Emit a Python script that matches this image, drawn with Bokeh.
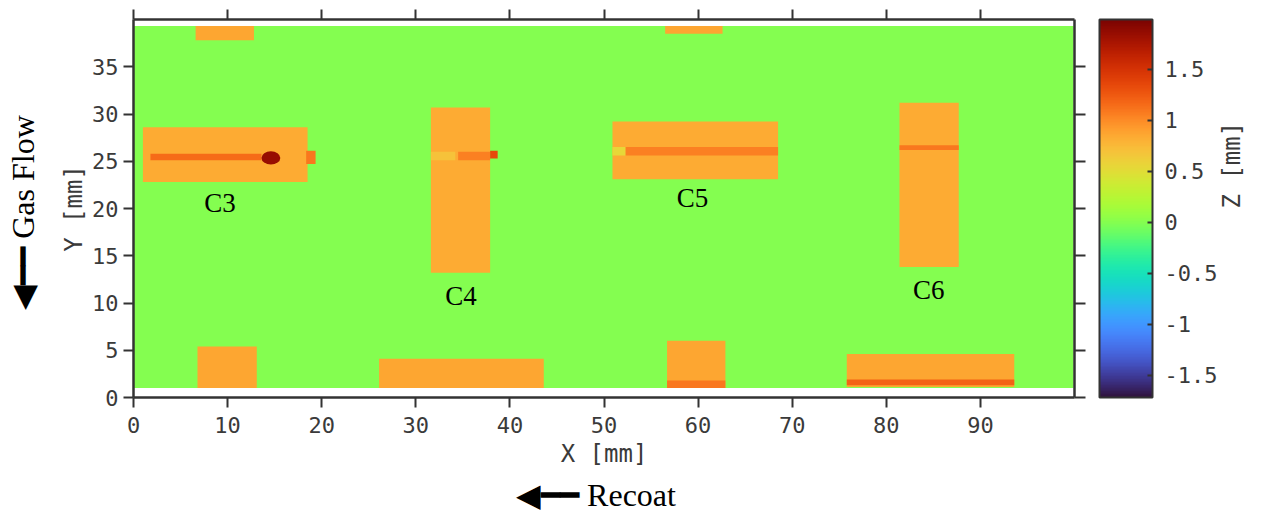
from math import pi
from bokeh.plotting import figure
from bokeh.models import (LinearColorMapper, ColorBar, FixedTicker, LinearAxis,
                          ColumnDataSource, Range1d, CustomJSTickFormatter)
from bokeh.palettes import Turbo256
from bokeh.core.properties import value
from bokeh.embed import file_html
from bokeh.resources import INLINE

# ---------------- data (mm) ----------------
x_ticks = [0, 10, 20, 30, 40, 50, 60, 70, 80, 90]
y_ticks = [0, 5, 10, 15, 20, 25, 30, 35]
z_ticks = [-1.5, -1.0, -0.5, 0.0, 0.5, 1.0, 1.5]
z_low, z_high = -1.72, 1.99

# scanned build plate (background height)
bed_left, bed_right, bed_bottom, bed_top, bed_z = [0.0], [99.9], [1.0], [39.3], [0.0]

# printed parts
part_left   = [6.6, 56.5, 1.0, 31.6, 50.9, 81.4, 6.8, 26.1, 56.7, 75.8]
part_right  = [12.8, 62.6, 18.5, 37.9, 68.5, 87.7, 13.1, 43.6, 62.9, 93.6]
part_bottom = [37.8, 38.5, 22.8, 13.2, 23.1, 13.8, 1.0, 1.0, 1.0, 1.1]
part_top    = [39.3, 39.3, 28.6, 30.7, 29.2, 31.2, 5.4, 4.1, 6.0, 4.6]
part_z      = [0.86, 0.86, 0.84, 0.84, 0.84, 0.84, 0.86, 0.86, 0.86, 0.86]

# raised tracks / features on the parts
track_left   = [1.8, 18.35, 31.6, 34.5, 37.9, 50.9, 52.3, 81.4, 75.8, 56.7]
track_right  = [13.6, 19.35, 34.2, 37.9, 38.7, 52.3, 68.5, 87.7, 93.6, 62.9]
track_bottom = [25.1, 24.7, 25.1, 25.1, 25.3, 25.6, 25.6, 26.2, 1.3, 1.0]
track_top    = [25.8, 26.1, 26.0, 26.0, 26.1, 26.5, 26.5, 26.7, 1.9, 1.8]
track_z      = [1.15, 1.1, 0.7, 1.05, 1.35, 0.55, 1.05, 1.1, 1.2, 1.1]

# defect (spatter blob) on C3
blob_x, blob_y, blob_w, blob_h, blob_z = [14.6], [25.35], [2.0], [1.4], [1.85]

# coupon labels
label_text = ["C3", "C4", "C5", "C6"]
label_x = [9.2, 34.8, 59.4, 84.5]
label_y = [20.6, 10.7, 21.1, 11.4]

# ---------------- figure ----------------
mapper = LinearColorMapper(palette=Turbo256, low=z_low, high=z_high)
fill = {"field": "z", "transform": mapper}

p = figure(width=1262, height=516, x_range=Range1d(0, 100), y_range=Range1d(0, 40),
           output_backend="svg", toolbar_location=None,
           min_border_left=133, min_border_right=188, min_border_top=19, min_border_bottom=119)
p.xgrid.visible = False
p.ygrid.visible = False
p.outline_line_color = None
p.background_fill_color = "white"

src_bed = ColumnDataSource(dict(l=bed_left, r=bed_right, b=bed_bottom, t=bed_top, z=bed_z))
p.quad(left="l", right="r", bottom="b", top="t", source=src_bed, fill_color=fill, line_color=None)
src_parts = ColumnDataSource(dict(l=part_left, r=part_right, b=part_bottom, t=part_top, z=part_z))
p.quad(left="l", right="r", bottom="b", top="t", source=src_parts, fill_color=fill, line_color=None)
src_tr = ColumnDataSource(dict(l=track_left, r=track_right, b=track_bottom, t=track_top, z=track_z))
p.quad(left="l", right="r", bottom="b", top="t", source=src_tr, fill_color=fill, line_color=None)
src_blob = ColumnDataSource(dict(x=blob_x, y=blob_y, w=blob_w, h=blob_h, z=blob_z))
p.ellipse(x="x", y="y", width="w", height="h", source=src_blob, fill_color=fill, line_color=None)

src_lab = ColumnDataSource(dict(x=label_x, y=label_y, text=label_text))
p.text(x="x", y="y", text="text", source=src_lab, text_font=value("Liberation Serif"),
       text_font_size="27px", text_color="black", text_align="center", text_baseline="middle")

AX = "#333333"
TXT = "#3a3a3a"
MONO = "DejaVu Sans Mono"
SERIF = "Liberation Serif"

def style_axis(ax, labels=True):
    ax.axis_line_color = AX
    ax.axis_line_width = 2.5
    ax.major_tick_line_color = AX
    ax.major_tick_line_width = 2
    ax.major_tick_in = 0
    ax.major_tick_out = 10
    ax.minor_tick_line_color = None
    ax.major_label_text_font = MONO
    ax.major_label_text_color = TXT
    ax.axis_label_text_font = MONO
    ax.axis_label_text_color = TXT
    ax.axis_label_text_font_style = "normal"
    ax.axis_label_text_font_size = "24px"
    if labels:
        ax.major_label_text_font_size = "22px"
    else:
        ax.major_label_text_font_size = "0px"
        ax.major_label_standoff = 0

def text_only_axis(label, font, size, standoff, color):
    ax = LinearAxis(axis_label=label, ticker=FixedTicker(ticks=[]))
    ax.axis_line_color = None
    ax.major_tick_line_color = None
    ax.minor_tick_line_color = None
    ax.major_tick_in = 0
    ax.major_tick_out = 0
    ax.major_label_text_font_size = "0px"
    ax.major_label_standoff = 0
    ax.axis_label_standoff = standoff
    ax.axis_label_text_font = font
    ax.axis_label_text_font_size = size
    ax.axis_label_text_font_style = "normal"
    ax.axis_label_text_color = color
    return ax

xa = p.xaxis[0]
xa.ticker = FixedTicker(ticks=x_ticks)
style_axis(xa)
xa.axis_label = "X [mm]"
xa.major_label_standoff = 9
xa.axis_label_standoff = 4

ya = p.yaxis[0]
ya.ticker = FixedTicker(ticks=y_ticks)
style_axis(ya)
ya.axis_label = "Y [mm]"
ya.major_label_standoff = 5
ya.axis_label_standoff = 1

top = LinearAxis(ticker=FixedTicker(ticks=x_ticks))
style_axis(top, labels=False)
p.add_layout(top, "above")

right = LinearAxis(ticker=FixedTicker(ticks=y_ticks))
style_axis(right, labels=False)
right.major_tick_out = 11
p.add_layout(right, "right")

# blank spacer between the frame's right axis and the colour bar
spacer = text_only_axis("\u00A0", MONO, "1px", 10, "white")
p.add_layout(spacer, "right")

cb = ColorBar(color_mapper=mapper, ticker=FixedTicker(ticks=z_ticks),
              formatter=CustomJSTickFormatter(code="return tick.toString();"),
              width=53, height=378, padding=0, margin=0, label_standoff=12,
              bar_line_color=AX, bar_line_width=2,
              major_tick_line_color=AX, major_tick_line_width=2, major_tick_in=5, major_tick_out=0,
              major_label_text_font=MONO, major_label_text_font_size="22px",
              major_label_text_color=TXT, background_fill_alpha=0, border_line_color=None)
p.add_layout(cb, "right")

z_axis = text_only_axis("Z [mm]", MONO, "24px", 11, TXT)
z_axis.axis_label_orientation = pi / 2
z_axis.axis_label_text_line_height = 1.0
p.add_layout(z_axis, "right")

gas_axis = text_only_axis("\u25C0\u2501\u2501 Gas Flow\u00A0", SERIF, "32px", 17, "black")
p.add_layout(gas_axis, "left")

recoat_axis = text_only_axis("\u25C0\u2501\u2501 Recoat\u00A0\u00A0", SERIF, "32px", 6, "black")
p.add_layout(recoat_axis, "below")

open("out.html", "w").write(file_html(p, INLINE))
